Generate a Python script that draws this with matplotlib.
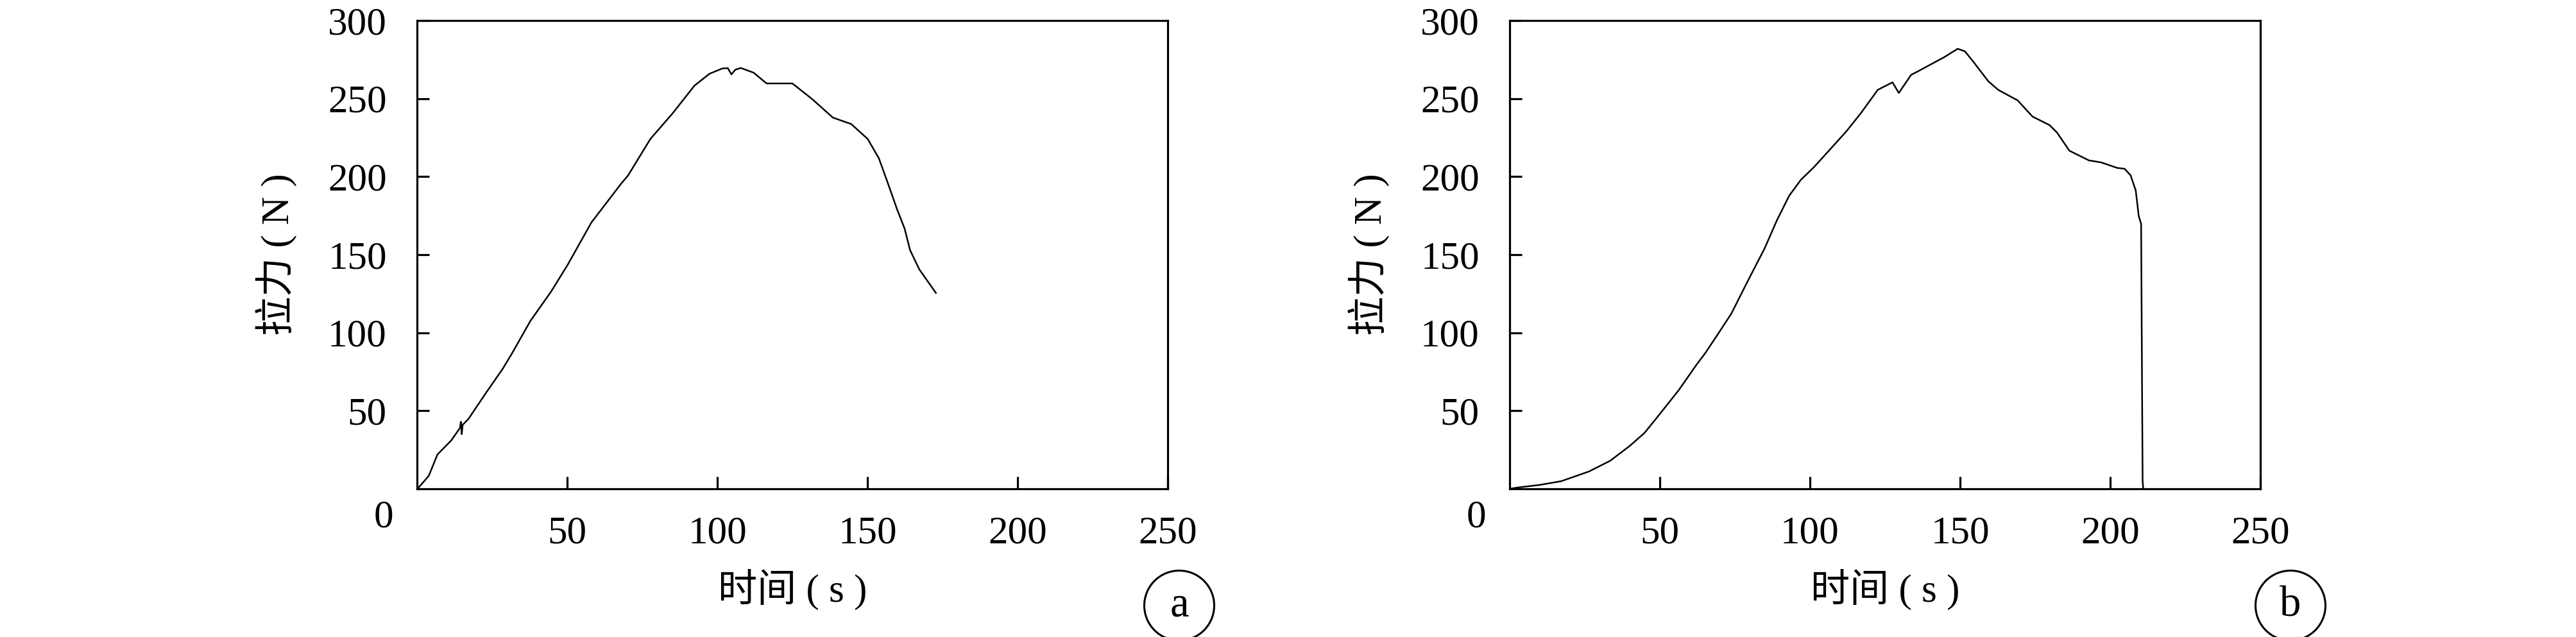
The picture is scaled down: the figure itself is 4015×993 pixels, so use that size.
import matplotlib
matplotlib.use("Agg")
import matplotlib.pyplot as plt

plt.rcParams['font.family'] = ['Liberation Serif', 'Noto Sans CJK SC', 'DejaVu Sans']

# ---- data ----
time_a = [0, 0.4, 3.9, 6.8, 11.4, 14.3, 14.6, 14.9, 15.2, 17.1, 22.8, 28.5, 31.7, 37.8, 44.6, 50.1,
          58.1, 67.9, 70.3, 77.7, 85.1, 92.4, 97.4, 101.7, 103.5, 104.7, 106.0, 107.8, 112.1, 116.4,
          125.0, 131.7, 138.5, 144.6, 150.1, 153.8, 156.9, 159.9, 162.4, 164.2, 167.3, 172.8]
force_a = [0, 0.5, 8.3, 22, 31, 39, 43, 35, 41, 44.7, 61, 76.8, 87, 107.7, 126.2, 143.3,
           170.7, 195.3, 200.8, 224.1, 240.5, 258.3, 265.9, 269.3, 269.5, 265.5, 268.5, 269.6, 266.6, 259.7,
           259.7, 249.5, 237.8, 233.7, 224.1, 211.8, 195.3, 178.9, 166.6, 152.9, 140.5, 125.5]

time_b = [0, 2.6, 10, 17.2, 26.4, 33.5, 40, 44.9, 49.2, 56.3, 62, 65.2, 70, 73.9, 79, 84.9, 89,
          93.1, 97, 101.3, 106.5, 112.3, 116.9, 122.6, 127.5, 129.6, 133.7, 136.5, 144.7, 149.2,
          151.6, 154.5, 159.4, 162.7, 169.2, 174.1, 179.8, 182.3, 186.4, 192.9, 197, 202.3, 204.8,
          206.8, 208.5, 209.5, 210.3, 210.5, 210.8, 211.0]
force_b = [0, 0.8, 2.5, 4.9, 11.1, 18, 27.5, 35.8, 46, 63.2, 78.9, 87.1, 101, 112.5, 132, 154, 172,
           187.8, 198, 206, 217, 229.4, 240.5, 255.6, 260.4, 253.6, 265.2, 268, 276.5, 281.9,
           280.3, 273.4, 261.1, 255.6, 248.8, 238.5, 233, 228.2, 216.6, 210.4, 209.1, 205.6, 205,
           200.8, 191.2, 174.8, 169.6, 100, 5, 0]

x_ticks = [50, 100, 150, 200, 250]
y_ticks = [50, 100, 150, 200, 250, 300]
x_label = "时间 ( s )"
y_label = "拉力 ( N )"
panel_labels = ["a", "b"]

W, H = 4016, 993
fig = plt.figure(figsize=(W / 100, H / 100), dpi=100)

axes_left_px = [650, 2353]
ax_w_px = 1170
ax_bottom_px = 762
ax_top_px = 32
circle_centers_px = [(1838, 944), (3570, 944)]

series = [(time_a, force_a), (time_b, force_b)]

for i in range(2):
    l = axes_left_px[i] / W
    b = 1 - ax_bottom_px / H
    ax = fig.add_axes([l, b, ax_w_px / W, (ax_bottom_px - ax_top_px) / H])
    t, f = series[i]
    ax.plot(t, f, color='black', lw=1.8)
    ax.set_xlim(0, 250)
    ax.set_ylim(0, 300)
    for s in ax.spines.values():
        s.set_linewidth(2.3)
        s.set_color('black')
    ax.set_xticks(x_ticks)
    ax.set_yticks(y_ticks)
    ax.set_xticklabels([str(v) for v in x_ticks])
    ax.set_yticklabels([str(v) for v in y_ticks])
    ax.tick_params(axis='both', direction='in', length=13.5, width=2.3, labelsize=44, colors='black')
    ax.tick_params(axis='y', pad=34)
    ax.tick_params(axis='x', pad=30)
    ax.tick_params(top=False, right=False)
    # origin label
    ax.annotate("0", xy=(0, 0), xycoords='axes fraction', xytext=(-52, -45),
                textcoords='offset pixels', ha='center', va='center', fontsize=44)
    ax.set_xlabel(x_label, fontsize=44, va='center')
    ax.xaxis.set_label_coords(0.5, -0.216)
    ax.set_ylabel(y_label, fontsize=44, va='center')
    ax.yaxis.set_label_coords(-0.1873, 0.5)
    cx, cy = circle_centers_px[i]
    fig.text(cx / W, 1 - cy / H, panel_labels[i], ha='center', va='center', fontsize=48,
             bbox=dict(boxstyle='circle,pad=0.36', fc='white', ec='black', lw=2.2))

fig.savefig("out.png", dpi=100, facecolor='white')
